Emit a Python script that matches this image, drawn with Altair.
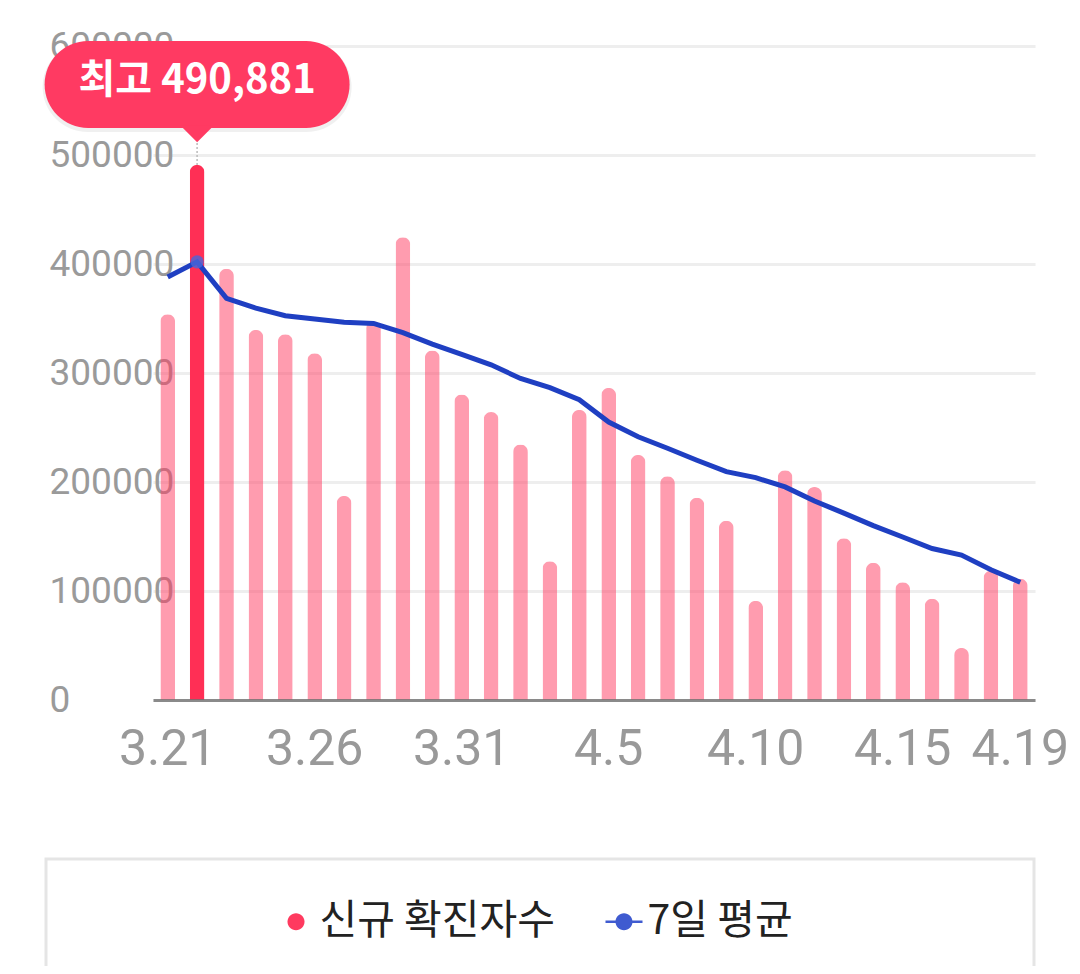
import altair as alt
import pandas as pd

# ---- data ----
dates = ["3.21", "3.22", "3.23", "3.24", "3.25", "3.26", "3.27", "3.28", "3.29", "3.30",
         "3.31", "4.1", "4.2", "4.3", "4.4", "4.5", "4.6", "4.7", "4.8", "4.9",
         "4.10", "4.11", "4.12", "4.13", "4.14", "4.15", "4.16", "4.17", "4.18", "4.19"]
new_cases = [353980, 490881, 395598, 339514, 335580, 318130, 187213, 347554, 424641, 320743,
             280273, 264171, 234301, 127190, 266135, 286294, 224820, 205333, 185566, 164481,
             90928, 210755, 195419, 148443, 125846, 107916, 93001, 47743, 118504, 111319]
avg7 = [388000, 402000, 368500, 359500, 352500, 349500, 346500, 345500, 337000, 326500,
        317000, 307500, 295000, 286500, 275500, 255000, 241500, 231000, 220000, 209500,
        204000, 195500, 182500, 171500, 160000, 149500, 139000, 133000, 119500, 108000]
x_tick_labels = ["3.21", "3.26", "3.31", "4.5", "4.10", "4.15", "4.19"]
y_ticks = [0, 100000, 200000, 300000, 400000, 500000, 600000]
series_names = ["신규 확진자수", "7일 평균"]

RED = "#ff3a5f"
PEAK_RED = "#ff2f55"
BLUE = "#1f3fc2"

df = pd.DataFrame({"date": dates, "cases": new_cases, "avg": avg7})
df["peak"] = df["cases"] == df["cases"].max()

base = alt.Chart(df)

x_enc = alt.X(
    "date:N",
    sort=dates,
    scale=alt.Scale(paddingInner=0.5, paddingOuter=0.25),
    axis=alt.Axis(
        values=x_tick_labels, labelAngle=0, title=None, ticks=False, tickSize=0,
        labelPadding=24, labelFontSize=50, labelColor="#999999", labelFont="Roboto",
        domainColor="#707070", domainOpacity=0.8, domainWidth=3, grid=False, zindex=1,
    ),
)
y_enc = alt.Y(
    "cases:Q",
    scale=alt.Scale(domain=[0, 600000], nice=False),
    axis=alt.Axis(
        values=y_ticks, format="d", title=None, domain=False, ticks=False, tickSize=0,
        labelAlign="left", labelPadding=104, labelFontSize=37, labelColor="#9a9a9a",
        labelFont="Roboto", labelBaseline="middle", gridColor="#eeeeee", gridWidth=3,
    ),
)

bars = base.mark_bar(cornerRadiusTopLeft=7.3, cornerRadiusTopRight=7.3).encode(
    x=x_enc,
    y=y_enc,
    color=alt.condition("datum.peak", alt.value(PEAK_RED), alt.value(RED)),
    opacity=alt.condition("datum.peak", alt.value(1.0), alt.value(0.5)),
)

line = base.mark_line(color=BLUE, strokeWidth=5).encode(
    x=alt.X("date:N", sort=dates),
    y=alt.Y("avg:Q"),
)

peak = base.transform_filter("datum.peak")

dot = peak.mark_point(filled=True, size=175, color="#4a66d8", opacity=0.8).encode(
    x=alt.X("date:N", sort=dates),
    y=alt.Y("avg:Q"),
)

rule = peak.mark_rule(color="#bbbbbb", strokeDash=[2, 2], strokeWidth=1.5).encode(
    x=alt.X("date:N", sort=dates),
    y=alt.Y("cases:Q"),
    y2=alt.value(97),
)

pill_shadow = peak.mark_bar(width=309, cornerRadius=45, color="#000000", opacity=0.06).encode(
    x=alt.X("date:N", sort=dates),
    y=alt.value(-4),
    y2=alt.value(86),
)

pill = peak.mark_bar(width=305, cornerRadius=43.5, color="#ff3a62").encode(
    x=alt.X("date:N", sort=dates),
    y=alt.value(-5),
    y2=alt.value(82),
)

pointer = peak.mark_point(
    shape="M-1,-0.6L1,-0.6L0,0.4Z", size=1156, filled=True, color="#ff3a62", opacity=1, strokeWidth=0
).encode(
    x=alt.X("date:N", sort=dates),
    y=alt.value(89.5),
)

pill_text = peak.transform_calculate(
    label="'최고 ' + format(datum.cases, ',')"
).mark_text(
    font="Noto Sans CJK KR", fontSize=40, fontWeight="bold", color="white",
    align="center", baseline="middle",
).encode(
    x=alt.X("date:N", sort=dates),
    y=alt.value(35),
    text="label:N",
)

legend_box = alt.Chart(pd.DataFrame({"k": [0]})).mark_rect(
    fill="white", stroke="#e5e5e5", strokeWidth=3
).encode(
    x=alt.value(-107), x2=alt.value(881), y=alt.value(813), y2=alt.value(960),
)

red_path = "M0.46,0A0.46,0.46 0 1,1 -0.46,0A0.46,0.46 0 1,1 0.46,0Z"
blue_path = ("M-1,-0.07L1,-0.07L1,0.07L-1,0.07Z"
             "M0.46,0A0.46,0.46 0 1,1 -0.46,0A0.46,0.46 0 1,1 0.46,0Z")

legend_props = dict(
    title=None, orient="none", legendX=122.5, legendY=855, direction="horizontal",
    symbolSize=1369, symbolStrokeWidth=0, symbolOpacity=1,
    labelFont="Noto Sans CJK KR", labelFontSize=41, labelColor="#222222",
    labelOffset=3, columnPadding=48, padding=0, labelLimit=600,
)

legend_layer = alt.Chart(pd.DataFrame({"series": series_names})).transform_filter(
    "false"
).mark_point(filled=True).encode(
    color=alt.Color("series:N", scale=alt.Scale(domain=series_names, range=[RED, "#3f5bd0"]),
                    legend=alt.Legend(**legend_props)),
    shape=alt.Shape("series:N", scale=alt.Scale(domain=series_names, range=[red_path, blue_path]),
                    legend=alt.Legend(**legend_props)),
)

chart = alt.layer(
    bars, line, dot, rule, pill_shadow, pill, pointer, pill_text, legend_box, legend_layer
).properties(
    width=882,
    height=654,
    autosize=alt.AutoSizeParams(type="none"),
    padding={"left": 145, "top": 38, "right": 37, "bottom": 266},
    background="white",
).configure_view(stroke=None)

chart.save("out.html", embed_options={"renderer": "svg", "actions": False})
